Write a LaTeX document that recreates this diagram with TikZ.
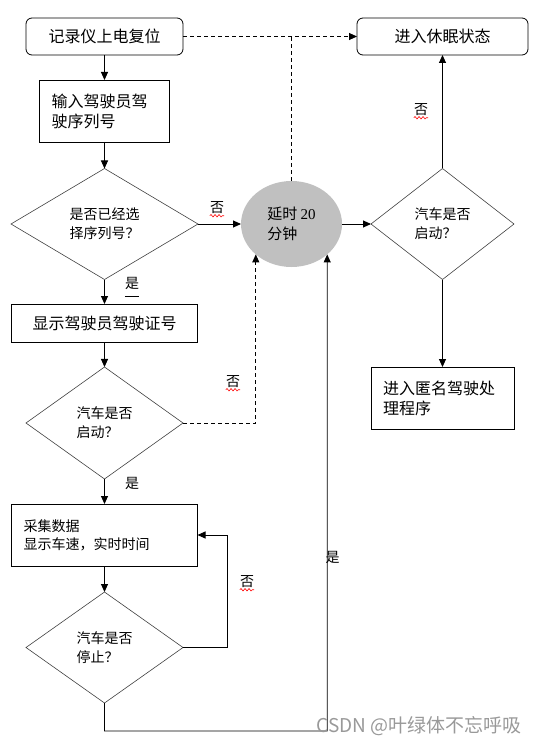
\documentclass[tikz,border=0pt]{standalone}
\usepackage{fontspec}
\setmainfont{Noto Sans CJK SC}
\newfontfamily\numfont{Liberation Serif}
\usetikzlibrary{shapes.geometric,arrows.meta,decorations.pathmorphing}

\colorlet{bordercolor}{black}
\colorlet{diamondcolor}{black!75}
\definecolor{delaycolor}{RGB}{192,192,192}
\colorlet{linecolor}{black}
\colorlet{markcolor}{red}
\colorlet{watermarkcolor}{black!40}
\tikzset{boxbase/.style 2 args={shape=rectangle, minimum width=#1, minimum height=#2, inner sep=0pt, outer sep=0pt, draw=bordercolor, line width=0.8pt},%
    roundbox/.style 2 args={boxbase={#1}{#2}, rounded corners=6pt, font=\fontsize{16}{20}\selectfont},%
    plainbox/.style 2 args={boxbase={#1}{#2}, font=\fontsize{16}{20}\selectfont},%
    textbox/.style 2 args={boxbase={0}{#2}, inner xsep=12pt, text width=#1, align=left, font=\fontsize{16}{20}\selectfont},%
    listbox/.style 2 args={textbox={#1}{#2}, font=\fontsize{14}{18}\selectfont},%
    decision/.style 2 args={shape=diamond, minimum width=#1, minimum height=#2, inner sep=0pt, outer sep=0pt, draw=diamondcolor, line width=0.6pt, align=left, font=\fontsize{14}{19}\selectfont},%
    waitnode/.style 2 args={shape=ellipse, minimum width=#1, minimum height=#2, inner sep=0pt, outer sep=0pt, fill=delaycolor, align=left, font=\fontsize{15}{20}\selectfont},%
    conn/.style={-{Triangle[length=8pt,width=7pt]}, line width=0.9pt, color=linecolor},%
    dashconn/.style={conn, dash pattern=on 4pt off 3pt},%
    dashline/.style={-, line width=0.9pt, color=linecolor, dash pattern=on 4pt off 3pt},%
    answer/.style={font=\fontsize{14}{14}\selectfont, inner sep=0pt},%
    spellmark/.style={draw=markcolor, line width=0.6pt, decorate, decoration={snake, amplitude=1.2pt, segment length=4pt}},%
    grammarmark/.style={draw=linecolor, line width=0.8pt},%
    watermark/.style={font=\fontsize{19}{19}\selectfont, text=watermarkcolor, inner sep=0pt}%
}

\begin{document}
\begin{tikzpicture}[x=1pt, y=-1pt]
    \useasboundingbox (0,0) rectangle (540,746);
    \begin{scope} %draw nodes
        \node[roundbox={157}{37}] (reset) at (104.5, 36.5) {记录仪上电复位};
        \node[roundbox={171}{37}] (sleep) at (442.5, 36.5) {进入休眠状态};
        \node[textbox={106}{62}] (input) at (104.5, 111) {输入驾驶员驾\\驶序列号};
        \node[decision={187}{111}] (chosen) at (104.5, 224) {是否已经选\\择序列号？};
        \node[waitnode={101}{86}] (delay) at (291.5, 224) {延时 {\numfont 20}\\分钟};
        \node[decision={143}{111}] (started) at (442.5, 224) {汽车是否\\启动？};
        \node[textbox={119}{62}] (anon) at (442.5, 398) {进入匿名驾驶处\\理程序};
        \node[plainbox={186}{38}] (showid) at (104.5, 323) {显示驾驶员驾驶证号};
        \node[decision={157}{112}] (moving) at (104.5, 423) {汽车是否\\启动？};
        \node[listbox={162}{62}] (collect) at (104.5, 535) {采集数据\\显示车速，实时时间};
        \node[decision={157}{111}] (stopped) at (104.5, 647.5) {汽车是否\\停止？};
        \coordinate (loopback) at (227, 535);
        \coordinate (bottomright) at (327.2, 731);
    \end{scope}
    \begin{scope} %draw connections
        \path (reset) edge[conn] (input);
        \path (input) edge[conn] (chosen);
        \path (chosen) edge[conn] (delay);
        \path (chosen) edge[conn] (showid);
        \path (showid) edge[conn] (moving);
        \path (moving) edge[conn] (collect);
        \path (collect) edge[conn] (stopped);
        \path (delay) edge[conn] (started);
        \path (started) edge[conn] (sleep);
        \path (started) edge[conn] (anon);
        \path (reset) edge[dashconn] (sleep);
        \draw[dashline] (delay.north) -- (delay.north |- reset.east);
        \draw[dashconn] (moving.east) -| (delay.south west);
        \draw[conn] (stopped.east) -| (loopback) -- (collect.east);
        \draw[conn] (stopped.south) |- (bottomright) -- (delay.south east);
    \end{scope}
    \begin{scope} %add labels
        \foreach \labelname/\xpos/\ypos/\labelcontent in {%
                no1/217/208/否,
                yes1/132/283/是,
                no2/233/382/否,
                yes2/132/483/是,
                no3/247/582/否,
                yes3/332.5/557.5/是,
                no4/421/110/否
            } \node[answer] (\labelname) at (\xpos, \ypos) {\labelcontent};
        \foreach \labelname in {no1, no2, no3, no4}
            \draw[spellmark] ([yshift=-1.5pt]\labelname.south west) -- ([yshift=-1.5pt]\labelname.south east);
        \draw[grammarmark] ([yshift=-7pt]yes1.south west) -- ([yshift=-7pt]yes1.south east);
        \node[watermark] (credit) at (419, 726) {CSDN @叶绿体不忘呼吸};
    \end{scope}
\end{tikzpicture}
\end{document}
